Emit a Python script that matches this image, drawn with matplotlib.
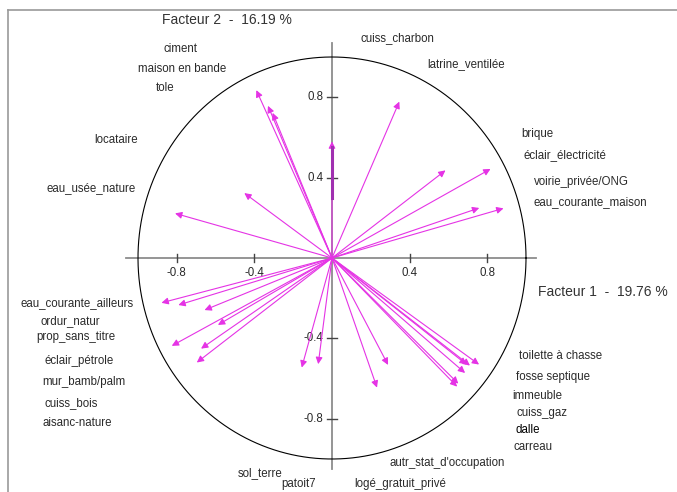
import matplotlib
matplotlib.use("Agg")
import matplotlib.pyplot as plt
from matplotlib.lines import Line2D
import numpy as np

plt.rcParams["font.family"] = ["Liberation Sans", "DejaVu Sans"]

# --------------------------------------------------------------
#  Correlation circle data (factor 1 / factor 2 loadings)
# --------------------------------------------------------------
factor1_name = "Facteur 1  -  19.76 %"
factor2_name = "Facteur 2  -  16.19 %"

load_f1 = [-0.390, -0.330, -0.306, -0.452, -0.809,
           0.000,
           0.347, 0.585, 0.817, 0.759, 0.884,
           -0.879, -0.792, -0.657, -0.588, -0.826, -0.675, -0.697,
           -0.156, -0.071, 0.232, 0.289,
           0.694, 0.711, 0.758, 0.686, 0.651, 0.645]
load_f2 = [0.835, 0.757, 0.722, 0.323, 0.222,
           0.580,
           0.778, 0.436, 0.443, 0.249, 0.247,
           -0.223, -0.234, -0.259, -0.333, -0.437, -0.451, -0.520,
           -0.545, -0.528, -0.645, -0.532,
           -0.530, -0.535, -0.530, -0.572, -0.625, -0.640]

var_labels = ["ciment", "maison en bande", "tole", "locataire", "eau_usée_nature",
              "cuiss_charbon", "latrine_ventilée", "brique", "éclair_électricité",
              "voirie_privée/ONG", "eau_courante_maison",
              "eau_courante_ailleurs", "ordur_natur", "prop_sans_titre",
              "éclair_pétrole", "mur_bamb/palm", "cuiss_bois", "aisanc-nature",
              "sol_terre", "patoit7", "autr_stat_d'occupation", "logé_gratuit_privé",
              "toilette à chasse", "fosse septique", "immeuble", "cuiss_gaz",
              "dalle", "carreau"]

tick_values = [-0.8, -0.4, 0.4, 0.8]

# label placement (left edge x, centre y) in factor units
label_pos = [(-0.866, 1.040), (-1.002, 0.939), (-0.909, 0.844), (-1.225, 0.586),
             (-1.471, 0.347), (0.149, 1.093), (0.493, 0.965), (0.974, 0.617),
             (0.986, 0.512), (1.041, 0.380), (1.041, 0.280),
             (-1.605, -0.222), (-1.502, -0.313), (-1.522, -0.395), (-1.483, -0.512),
             (-1.491, -0.615), (-1.483, -0.720), (-1.491, -0.822),
             (-0.486, -1.071), (-0.259, -1.122), (0.295, -1.019), (0.113, -1.122),
             (0.965, -0.488), (0.947, -0.591), (0.931, -0.685), (0.952, -0.773),
             (0.947, -0.856), (0.935, -0.939)]

ARROW = "#e533e5"
AXIS = "#8c8c8c"
TEXT = "#2a2a2a"

fig = plt.figure(figsize=(6.77, 4.92), dpi=100)
ax = fig.add_axes([0, 0, 1, 1])
ax.set_xlim(-332 / 194, (677 - 332) / 194)
ax.set_ylim((258 - 492) / 201, 258 / 201)
ax.axis("off")

# outer frame (left + top only)
fig.add_artist(Line2D([8 / 677, 8 / 677], [0, 1 - 9.5 / 492], color="#9a9a9a", lw=1.2))
fig.add_artist(Line2D([8 / 677, 1], [1 - 9.5 / 492, 1 - 9.5 / 492], color="#9a9a9a", lw=1.2))

# axes through origin
ax.plot([-1.06, 1.05], [0, 0], color=AXIS, lw=1.3, zorder=1)
ax.plot([0, 0], [-1.05, 1.07], color=AXIS, lw=1.3, zorder=1)
for t in tick_values:
    ax.plot([t, t], [-0.02, 0.02], color="#444444", lw=1.0, zorder=1)
    ax.plot([-0.028, 0.028], [t, t], color="#444444", lw=1.0, zorder=1)
    ax.text(t, -0.075, f"{t:g}", ha="center", va="center", fontsize=8.3, color=TEXT)
    ax.text(-0.045, t, f"{t:g}", ha="right", va="center", fontsize=8.3, color=TEXT)

# unit circle
theta = np.linspace(0, 2 * np.pi, 400)
ax.plot(np.cos(theta), np.sin(theta), color="black", lw=0.8, zorder=2)

# loading arrows
for x, y in zip(load_f1, load_f2):
    ax.annotate("", xy=(x, y), xytext=(0, 0),
                arrowprops=dict(arrowstyle="-|>", color=ARROW, lw=0.8,
                                mutation_scale=10, shrinkA=0, shrinkB=0),
                zorder=3)
ax.plot([0, 0], [0.30, 0.55], color="#a030b0", lw=2.2, zorder=3)

# variable labels
for name, (lx, ly) in zip(var_labels, label_pos):
    ax.text(lx, ly, name, ha="left", va="center", fontsize=8.3,
            color="black" if name == "dalle" else TEXT)

# factor titles
ax.text(-0.878, 1.184, factor2_name, ha="left", va="center", fontsize=10, color="#333333")
ax.text(1.063, -0.168, factor1_name, ha="left", va="center", fontsize=10, color="#333333")

fig.savefig("out.png", dpi=100)
